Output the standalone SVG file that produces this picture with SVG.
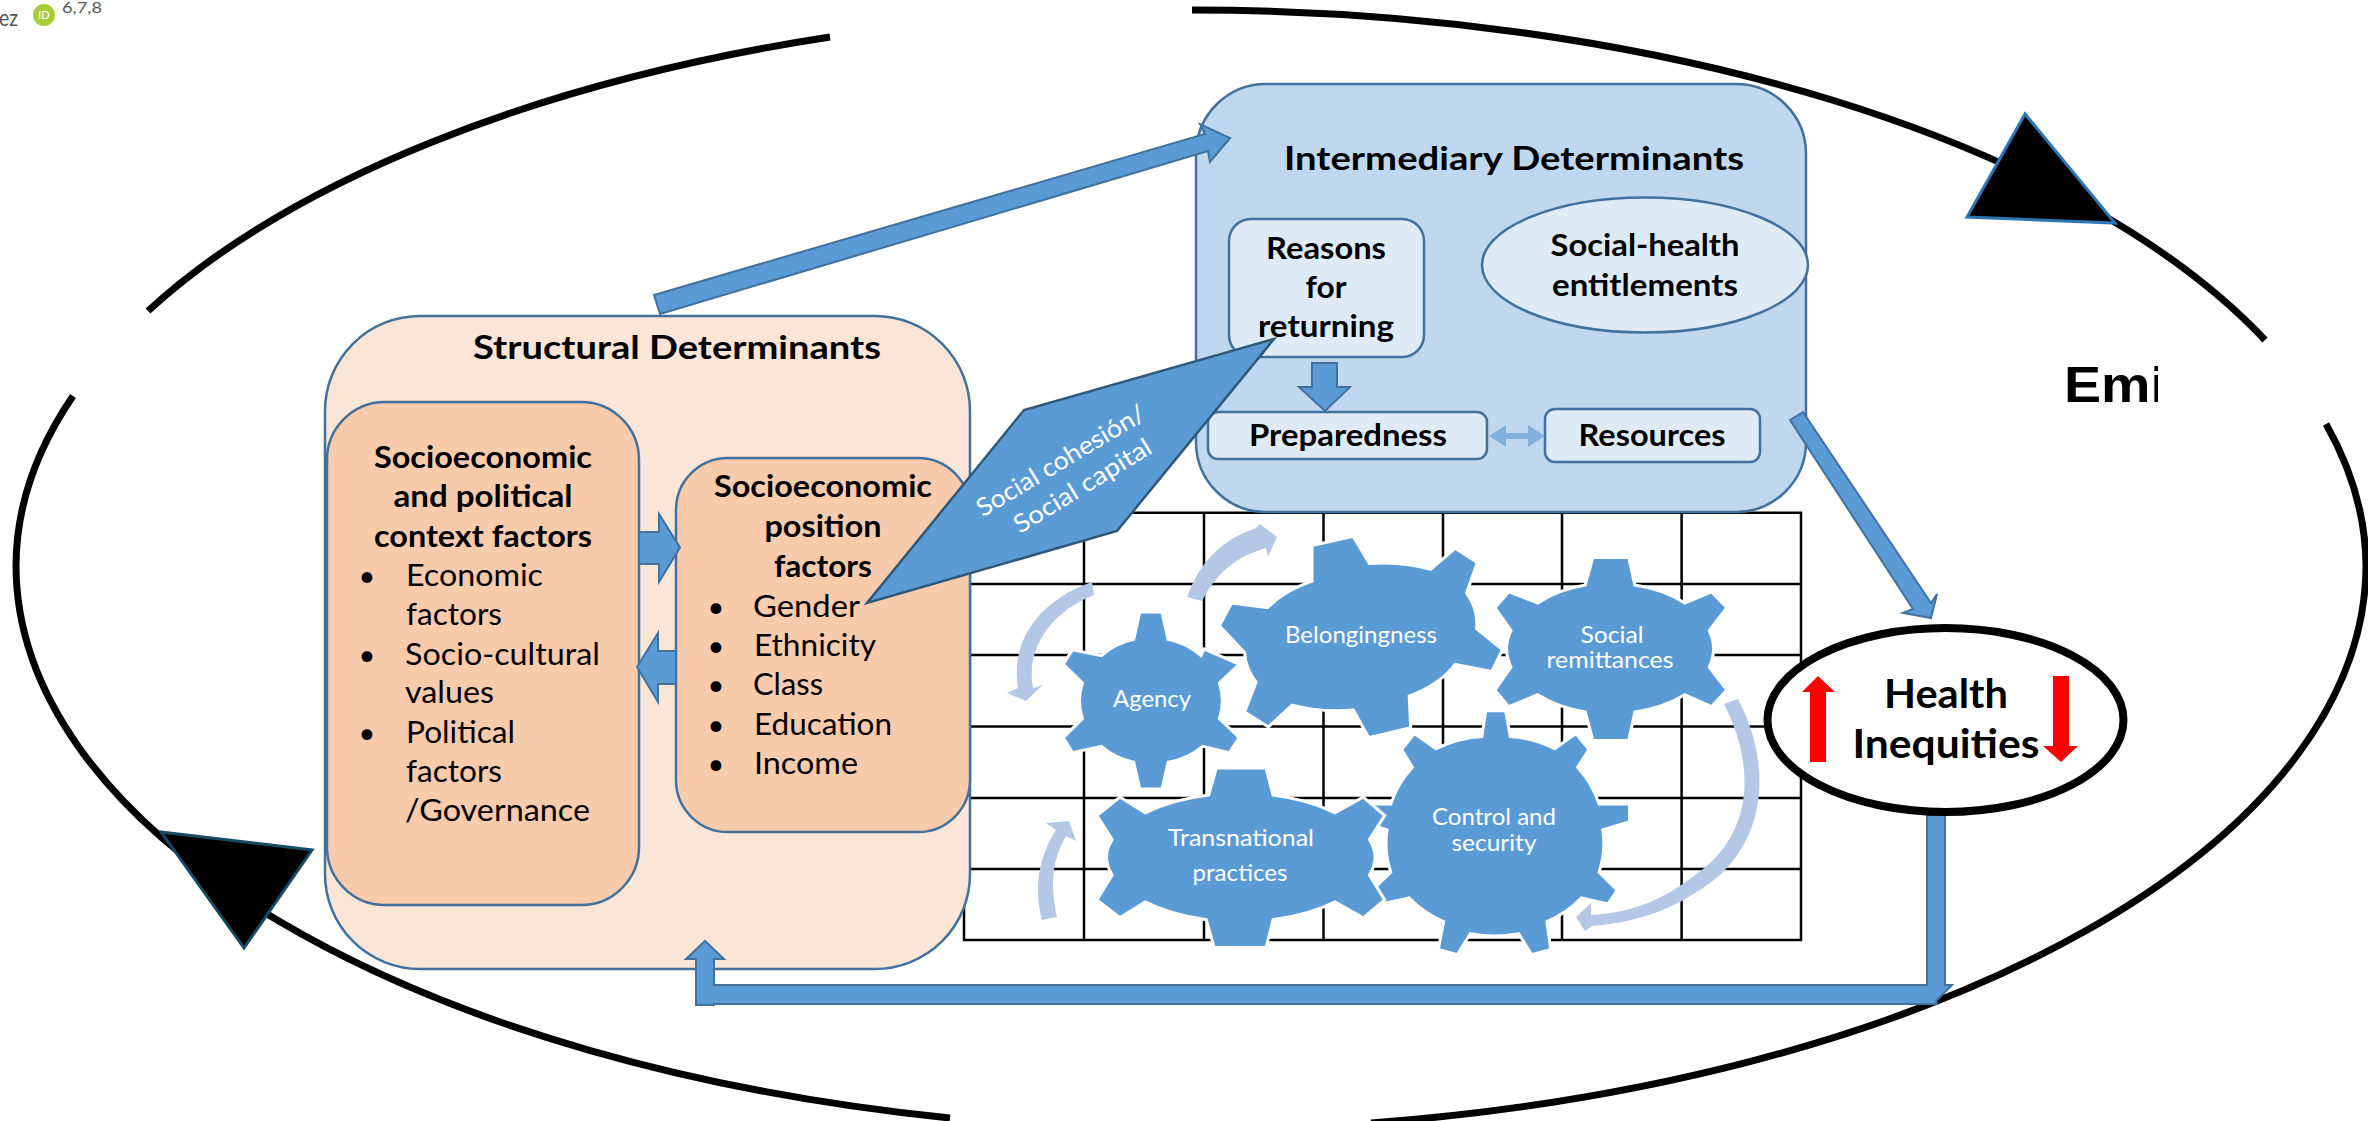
<svg xmlns="http://www.w3.org/2000/svg" width="2368" height="1121" viewBox="0 0 2368 1121">
<style>
text{font-family:Lato,"Open Sans","Liberation Sans",sans-serif;fill:#000}
.b{font-weight:700}
.t{font-size:33px;font-weight:700;text-anchor:middle}
.h{font-size:30px;font-weight:700;text-anchor:middle}
.l{font-size:30px}
.d{font-size:29px;text-anchor:middle}
.g{font-size:23px;fill:#fff;text-anchor:middle}
.o{fill:none;stroke:#000;stroke-width:7}
.tri{fill:#000;stroke-width:3}
.grid{stroke:#000;stroke-width:2.5;fill:none}
.sb{stroke:#41719c;stroke-width:2.5}
.arr{fill:#5b9bd5;stroke:#41719c;stroke-width:2}
.gear{fill:#5b9bd5;stroke:#fff;stroke-width:3}
.cv{fill:#b4c7e7}
</style>
<defs><clipPath id="emiclip"><rect x="2040" y="340" width="118" height="80"/></clipPath></defs>
<g id="header">
<text x="-1" y="26" style="font-size:24px;fill:#555" textLength="19" lengthAdjust="spacingAndGlyphs">ez</text>
<circle cx="44" cy="15" r="11" fill="#a6ce39"/>
<text x="44" y="19" style="font-size:11px;fill:#fff;text-anchor:middle">ID</text>
<text x="62" y="13" style="font-size:15px;fill:#555" textLength="40" lengthAdjust="spacingAndGlyphs">6,7,8</text>
</g>
<g id="cycle">
<path class="o" d="M148,311A1176,555 0 0 1 830,37"/>
<path class="o" d="M1192,10A1176,555 0 0 1 2265,340"/>
<path class="o" d="M2326,424A1176,555 0 0 1 2366,565A1176,565 0 0 1 1371,1123"/>
<path class="o" d="M73,396A1176,555 0 0 0 16,565A1176,565 0 0 0 950,1118"/>
<polygon class="tri" stroke="#2e75b6" points="2025,114 1967,217 2115,223"/>
<polygon class="tri" stroke="#174a63" points="161,832 312,850 244,948"/>
<g clip-path="url(#emiclip)"><text x="2064" y="402" style="font-family:'Liberation Sans',sans-serif;font-weight:700;font-size:50px" textLength="102" lengthAdjust="spacingAndGlyphs">Emi</text></g>
</g>
<g id="grid">
<path class="grid" d="M964,512.7H1801V940H964ZM964,584H1801M964,655H1801M964,726.5H1801M964,798H1801M964,869H1801M1084,512.7V940M1204,512.7V940M1323.5,512.7V940M1443,512.7V940M1562,512.7V940M1681.6,512.7V940"/>
</g>
<g id="structural">
<rect class="sb" x="325" y="316" width="645" height="653" rx="95" ry="95" fill="#fbe5d6"/>
<text class="t" x="677" y="359" textLength="408" lengthAdjust="spacingAndGlyphs">Structural Determinants</text>
</g>
<g id="context">
<rect class="sb" x="327" y="402" width="312" height="503" rx="58" ry="58" fill="#f8cbad"/>
<text class="h" x="483" y="468" textLength="218" lengthAdjust="spacingAndGlyphs">Socioeconomic</text>
<text class="h" x="483" y="507" textLength="179" lengthAdjust="spacingAndGlyphs">and political</text>
<text class="h" x="483" y="547" textLength="218" lengthAdjust="spacingAndGlyphs">context factors</text>
<text class="d" x="367" y="586">•</text>
<text class="l" x="406" y="586" textLength="137" lengthAdjust="spacingAndGlyphs">Economic</text>
<text class="l" x="406" y="625" textLength="96" lengthAdjust="spacingAndGlyphs">factors</text>
<text class="d" x="367" y="665">•</text>
<text class="l" x="405" y="665" textLength="195" lengthAdjust="spacingAndGlyphs">Socio-cultural</text>
<text class="l" x="405" y="703" textLength="89" lengthAdjust="spacingAndGlyphs">values</text>
<text class="d" x="367" y="743">•</text>
<text class="l" x="406" y="743" textLength="109" lengthAdjust="spacingAndGlyphs">Political</text>
<text class="l" x="406" y="782" textLength="96" lengthAdjust="spacingAndGlyphs">factors</text>
<text class="l" x="405" y="821" textLength="185" lengthAdjust="spacingAndGlyphs">/Governance</text>
</g>
<g id="position">
<rect class="sb" x="676" y="458" width="294" height="374" rx="52" ry="52" fill="#f8cbad"/>
<text class="h" x="823" y="497" textLength="218" lengthAdjust="spacingAndGlyphs">Socioeconomic</text>
<text class="h" x="823" y="537" textLength="117" lengthAdjust="spacingAndGlyphs">position</text>
<text class="h" x="823" y="577" textLength="98" lengthAdjust="spacingAndGlyphs">factors</text>
<text class="d" x="716" y="617">•</text>
<text class="l" x="753" y="617" textLength="107" lengthAdjust="spacingAndGlyphs">Gender</text>
<text class="d" x="716" y="656">•</text>
<text class="l" x="754" y="656" textLength="122" lengthAdjust="spacingAndGlyphs">Ethnicity</text>
<text class="d" x="716" y="695">•</text>
<text class="l" x="753" y="695" textLength="70" lengthAdjust="spacingAndGlyphs">Class</text>
<text class="d" x="716" y="735">•</text>
<text class="l" x="754" y="735" textLength="138" lengthAdjust="spacingAndGlyphs">Education</text>
<text class="d" x="716" y="774">•</text>
<text class="l" x="754" y="774" textLength="104" lengthAdjust="spacingAndGlyphs">Income</text>
</g>
<g id="intermediary">
<rect class="sb" x="1196" y="84" width="610" height="428" rx="70" ry="70" fill="#c0d8ef"/>
<text class="t" x="1514" y="170" textLength="460" lengthAdjust="spacingAndGlyphs">Intermediary Determinants</text>
</g>
<g id="reasons">
<rect class="sb" x="1229" y="219" width="195" height="138" rx="22" ry="22" fill="#deebf7"/>
<text class="h" x="1326" y="259" textLength="120" lengthAdjust="spacingAndGlyphs">Reasons</text>
<text class="h" x="1326" y="298" textLength="41" lengthAdjust="spacingAndGlyphs">for</text>
<text class="h" x="1326" y="337" textLength="136" lengthAdjust="spacingAndGlyphs">returning</text>
</g>
<g id="entitlements">
<ellipse class="sb" cx="1645" cy="265" rx="163" ry="67.5" fill="#deebf7"/>
<text class="h" x="1645" y="256" textLength="189" lengthAdjust="spacingAndGlyphs">Social-health</text>
<text class="h" x="1645" y="296" textLength="186" lengthAdjust="spacingAndGlyphs">entitlements</text>
</g>
<g id="preparedness">
<rect class="sb" x="1208" y="412" width="279" height="47" rx="10" ry="10" fill="#deebf7"/>
<text class="h" x="1348" y="446" textLength="198" lengthAdjust="spacingAndGlyphs">Preparedness</text>
</g>
<g id="resources">
<rect class="sb" x="1545" y="409" width="215" height="53" rx="10" ry="10" fill="#deebf7"/>
<text class="h" x="1652" y="446" textLength="147" lengthAdjust="spacingAndGlyphs">Resources</text>
</g>
<g id="connectors">
<polygon class="arr" points="654,295 1205,134 1200,124 1230,138 1210,162 1208,151 660,314"/>
<polygon class="arr" points="639,532 659,532 659,514 680,547.5 659,582 659,564 639,564"/>
<polygon class="arr" points="676,651 658,651 658,633 637,667 658,702 658,684 676,684"/>
<polygon class="arr" points="1312,363 1337,363 1337,387 1350,387 1325,411 1299,387 1312,387"/>
<polygon points="1489,436 1506,425 1506,433 1528,433 1528,425 1545,436 1528,447 1528,439 1506,439 1506,447" fill="#7fb0de"/>
<polygon class="arr" points="1790,420 1803,412 1931,603 1937,594 1931,618 1903,613 1913,609"/>
<polygon class="arr" points="1927,813 1945,813 1945,985 1952,985 1936,1001 1937,1004 714,1004 714,1005 696,1005 696,959 686,959 705,941 724,959 714,959 714,985 1927,985"/>
<path class="cv" d="M1187,597Q1205,545 1256,528L1260,524 1277,537 1268,557 1266,548Q1222,560 1202,601Z"/>
<path class="cv" d="M1092,582C1040,600 1010,640 1018,688L1007,693 1026,701 1043,685 1033,688C1025,645 1055,610 1094,595Z"/>
<path class="cv" d="M1042,920C1033,885 1040,855 1056,830L1046,823 1069,821 1076,841 1066,836C1052,860 1050,885 1057,917Z"/>
<path class="cv" d="M1738,699C1770,760 1768,830 1720,875C1680,908 1640,922 1592,926L1585,931 1576,917 1591,903 1591,915C1640,912 1670,896 1708,865C1752,825 1755,765 1724,704Z"/>
</g>
<g id="health">
<ellipse cx="1945.5" cy="720" rx="178" ry="92" fill="#fff" stroke="#000" stroke-width="8"/>
<text class="b" x="1946" y="708" style="font-size:41px;text-anchor:middle" textLength="124" lengthAdjust="spacingAndGlyphs">Health</text>
<text class="b" x="1946" y="758" style="font-size:41px;text-anchor:middle" textLength="187" lengthAdjust="spacingAndGlyphs">Inequities</text>
<polygon fill="#f00" points="1818,676 1835,692 1826,692 1826,762 1810,762 1810,692 1802,692"/>
<polygon fill="#f00" points="2053,676 2069,676 2069,746 2078,746 2061,762 2043,746 2053,746"/>
</g>
<g id="control">
<path class="gear" d="M1481.9,736.4L1485.7,710.7H1505.6L1510.2,736.4A109,98.6 0 0 1 1554.6,748.7L1576,733.6 1589,749.5 1577.5,767.3A109,98.6 0 0 1 1599,804.1H1629.6V821.6L1602.8,829.9A109,98.6 0 0 1 1599,872.2L1617.3,890.1 1608.1,903.9 1581.4,898A109,98.6 0 0 1 1546.9,921.7L1550.8,949.5 1531.6,954.6 1518.6,933.6A109,98.6 0 0 1 1470.4,933.6L1457.4,954.6 1438.3,949.5 1443.6,921.7A109,98.6 0 0 1 1409.2,898L1381.6,903.9 1372.4,890.1 1390.8,872.2A109,98.6 0 0 1 1387,829.9L1360.2,821.6V804.1H1390.8A109,98.6 0 0 1 1412.5,767.3L1401.5,749.5 1414.5,733.6 1436,748.7A109,98.6 0 0 1 1481.9,736.4Z"/>
<text class="g" x="1494" y="825" textLength="124" lengthAdjust="spacingAndGlyphs">Control and</text>
<text class="g" x="1494" y="851" textLength="85" lengthAdjust="spacingAndGlyphs">security</text>
</g>
<g id="transnational">
<path class="gear" d="M1208.7,795L1216.3,768.1H1266.1L1273,795A133,62.4 0 0 1 1335,812.8L1363.3,797 1384.7,815.6 1369.4,839.4A133,62.4 0 0 1 1369.4,875L1384.7,900 1363.3,917.8 1335,901.9A133,62.4 0 0 1 1273,919.8L1266.1,947.5H1214L1206.4,919.8A133,62.4 0 0 1 1145.2,901.9L1119.9,917.8 1096.9,900 1112.2,875A133,62.4 0 0 1 1112.2,839.4L1096.9,815.6 1119.9,797 1145.2,812.8A133,62.4 0 0 1 1208.7,795Z"/>
<text class="g" x="1241" y="846" textLength="146" lengthAdjust="spacingAndGlyphs">Transnational</text>
<text class="g" x="1240" y="881" textLength="95" lengthAdjust="spacingAndGlyphs">practices</text>
</g>
<g id="agency">
<path class="gear" d="M1133.7,639.4L1139.8,612.1H1162L1168.1,639.4A69,62 0 0 1 1201,655.6L1204,648.9 1239.3,664.3 1219.4,683A69,62 0 0 1 1219.4,718.6L1239.3,737.6 1229.3,752.6 1202.5,746.3A69,62 0 0 1 1168.1,762.2L1162,789.1H1139.8L1133.7,762.2A69,62 0 0 1 1101.5,746.3L1072.4,752.6 1063.3,737.6 1082.4,718.6A69,62 0 0 1 1082.4,683L1063.3,664.3 1072.4,649.7 1101.5,655.6A69,62 0 0 1 1133.7,639.4Z"/>
<text class="g" x="1152" y="707" textLength="78" lengthAdjust="spacingAndGlyphs">Agency</text>
</g>
<g id="belongingness">
<path class="gear" d="M1312,581.2V545.5L1353.3,536.4 1369.4,563.4A117,73 0 0 1 1430.6,569.3L1455.1,548.3 1477.3,562.6 1466.6,593.1A117,73 0 0 1 1476.5,628.7L1502.5,649.7 1491.8,671.5 1455.1,664.3A117,73 0 0 1 1409.2,696L1410.7,727.7 1368.6,737.6 1353.3,709.9A117,73 0 0 1 1292.1,705.1L1268.4,726.9 1244.6,711.9 1256.1,682.2A117,73 0 0 1 1244.6,652.5L1219.4,625.9 1231.6,603 1267.6,607.7A117,73 0 0 1 1312,581.2Z"/>
<text class="g" x="1361" y="643" textLength="152" lengthAdjust="spacingAndGlyphs">Belongingness</text>
</g>
<g id="remittances">
<path class="gear" d="M1585.2,585.1L1592.9,557.4H1628.8L1634.9,585.1A101,63 0 0 1 1684.7,603L1711.5,591.9 1726.8,607.7 1709.2,630.7A101,63 0 0 1 1709.2,667.1L1726.8,690.1 1711.5,706.7 1684.7,694.8A101,63 0 0 1 1634.9,711.9L1628.8,740.4H1592.9L1585.2,711.9A101,63 0 0 1 1537.8,694.8L1508.7,706.7 1494.9,690.1 1511,667.1A101,63 0 0 1 1511,630.7L1494.9,607.7 1508.7,591.9 1537.8,603A101,63 0 0 1 1585.2,585.1Z"/>
<text class="g" x="1612" y="643" textLength="63" lengthAdjust="spacingAndGlyphs">Social</text>
<text class="g" x="1610" y="668" textLength="127" lengthAdjust="spacingAndGlyphs">remittances</text>
</g>
<g id="social-capital">
<polygon points="1274,339 1024,410 867,603 1117,531" fill="#5b9bd5" stroke="#2f5878" stroke-width="2.5"/>
<text class="g" transform="translate(1065,468) rotate(-31)" style="font-size:25px" textLength="192" lengthAdjust="spacingAndGlyphs">Social cohesión/</text>
<text class="g" transform="translate(1087,493) rotate(-31.5)" style="font-size:25px" textLength="157" lengthAdjust="spacingAndGlyphs">Social capital</text>
</g>
</svg>
